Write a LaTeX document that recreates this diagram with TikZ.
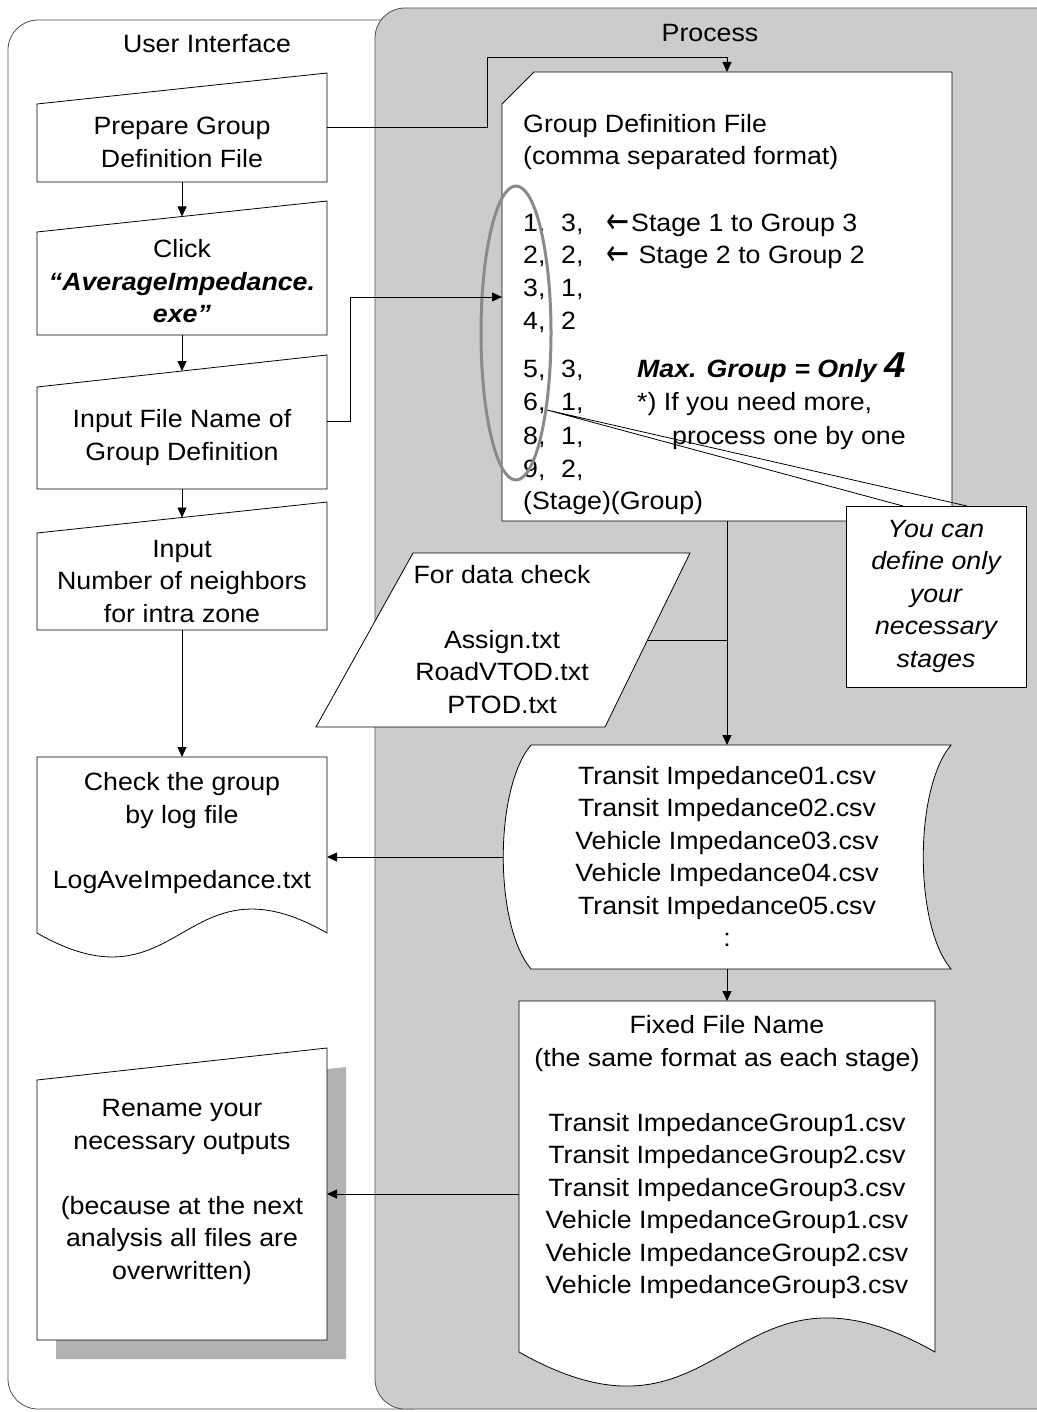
\documentclass[tikz,border=0pt]{standalone}
\usepackage{fontspec}
\usepackage{graphicx}
\setmainfont{Liberation Sans}[FakeStretch=1.07]
\newfontfamily\arrowfont{DejaVu Sans}
\usetikzlibrary{arrows.meta,calc}
\definecolor{lanegray}{HTML}{CCCCCC}
\definecolor{shadowgray}{HTML}{B2B2B2}
\definecolor{ringgray}{HTML}{8A8A8A}
\definecolor{edgegray}{HTML}{505050}
\newcommand{\bodyfont}{\fontsize{25}{32.5}\selectfont}
\newcommand{\bi}[1]{\textbf{\textit{#1}}}
\newcommand{\larr}{\makebox[25pt][l]{\raisebox{-2pt}{\scalebox{1.1}[1.45]{\arrowfont ←}}}}
\begin{document}
\begin{tikzpicture}[x=1pt,y=-1pt,
  outline/.style={draw=black, line width=0.8pt, fill=white},
  flow/.style={draw=black, line width=0.8pt, -{Triangle[length=10pt,width=9pt]}},
  link/.style={draw=black, line width=0.8pt},
  txt/.style={font=\bodyfont, align=center, inner sep=0pt},
  rowtext/.style={font=\bodyfont, anchor=base west, inner sep=0pt},
  lane/.style={rounded corners=30pt, line width=0.8pt, draw=edgegray}]
\useasboundingbox (0,0) rectangle (1036,1412);

% ---- swimlanes ----
\draw[lane, fill=white] (8,20) rectangle (440,1409);
\draw[lane, fill=lanegray] (375,8) rectangle (1080,1409);
\node[txt] (uititle) at (207,44) {User Interface};
\node[txt] (proctitle) at (710,33) {Process};

% ---- user interface column ----
\path[outline] (37,104) -- (327,73) -- (327,182) -- (37,182) -- cycle;
\node[txt] (prep) at (182,142.5) {Prepare Group\\Definition File};
\coordinate (prepS) at (182,182);
\coordinate (prepE) at (327,127);

\path[outline] (37,232) -- (327,201) -- (327,335) -- (37,335) -- cycle;
\node[txt] (click) at (182,281.5) {Click\\\bi{“AverageImpedance.}\\\bi{exe”}};
\coordinate (clickN) at (182,216.5);
\coordinate (clickS) at (182,335);

\path[outline] (37,387) -- (327,355) -- (327,489) -- (37,489) -- cycle;
\node[txt] (infile) at (182,437.5) {Input File Name of\\Group Definition};
\coordinate (infileN) at (182,371);
\coordinate (infileS) at (182,489);
\coordinate (infileE) at (327,421);

\path[outline] (37,533) -- (327,502) -- (327,630) -- (37,630) -- cycle;
\node[txt] (neigh) at (182,581.5) {Input\\Number of neighbors\\for intra zone};
\coordinate (neighN) at (182,517.5);
\coordinate (neighS) at (182,630);

\path[outline] (37,757) -- (327,757) -- (327,933)
  .. controls (182,850) and (182,1016) .. (37,933) -- cycle;
\node[txt] (check) at (182,833) {Check the group\\by log file\\[32.5pt]LogAveImpedance.txt};
\coordinate (checkN) at (182,757);
\coordinate (checkE) at (327,857);

\path[fill=shadowgray] (56,1099) -- (346,1067) -- (346,1359) -- (56,1359) -- cycle;
\path[outline] (37,1080) -- (327,1048) -- (327,1340) -- (37,1340) -- cycle;
\node[txt] (rename) at (182,1192) {Rename your\\necessary outputs\\[32.5pt](because at the next\\analysis all files are\\overwritten)};
\coordinate (renameE) at (327,1194);

% ---- process column ----
\path[outline] (502,104) -- (534,72) -- (952,72) -- (952,521) -- (502,521) -- cycle;
\coordinate (gdfN) at (727,72);
\coordinate (gdfW) at (502,297);
\coordinate (gdfS) at (727,521);
\node[rowtext] (gtitle) at (523,133) {Group Definition File};
\node[rowtext] (gformat) at (523,165) {(comma separated format)};
\node[rowtext] (ra1) at (523,232) {1,};
\node[rowtext] (rb1) at (561,232) {3,};
\node[rowtext] (rc1) at (606,232) {\larr Stage 1 to Group 3};
\node[rowtext] (ra2) at (523,264) {2,};
\node[rowtext] (rb2) at (561,264) {2,};
\node[rowtext] (rc2) at (606,264) {\larr{} Stage 2 to Group 2};
\node[rowtext] (ra3) at (523,297) {3,};
\node[rowtext] (rb3) at (561,297) {1,};
\node[rowtext] (ra4) at (523,329) {4,};
\node[rowtext] (rb4) at (561,329) {2};
\node[rowtext] (ra5) at (523,377) {5,};
\node[rowtext] (rb5) at (561,377) {3,};
\node[rowtext] (rc5) at (637,377) {\bi{Max. Group = Only {\fontsize{36}{36}\selectfont 4}}};
\node[rowtext] (ra6) at (523,410) {6,};
\node[rowtext] (rb6) at (561,410) {1,};
\node[rowtext] (rc6) at (637,410) {*) If you need more,};
\node[rowtext] (ra7) at (523,444) {8,};
\node[rowtext] (rb7) at (561,444) {1,};
\node[rowtext] (rc7) at (672,444) {process one by one};
\node[rowtext] (ra8) at (523,477) {9,};
\node[rowtext] (rb8) at (561,477) {2,};
\node[rowtext] (ra9) at (523,509) {(Stage)(Group)};
\draw[ringgray, line width=3pt] (516,333) ellipse [x radius=35pt, y radius=147pt];

% callout
\coordinate (tipref) at (547,410);
\draw[link] (903,506) -- (tipref) -- (967,506);
\draw[outline] (846,506) rectangle (1026,687);
\node[txt, font=\bodyfont\itshape] (note) at (936,596) {You can\\define only\\your\\necessary\\stages};

% data check input
\path[outline] (413,553) -- (690,553) -- (605,727) -- (316,727) -- cycle;
\node[txt] (datachk) at (502,639.5) {For data check\\[32.5pt]Assign.txt\\RoadVTOD.txt\\PTOD.txt};
\coordinate (datachkE) at (647.5,640);
\coordinate (joinpt) at (727,640);

% stage impedance files
\path[outline] (531,745) -- (951,745)
  .. controls (914,789) and (914,925) .. (951,969) -- (531,969)
  .. controls (494,925) and (494,789) .. (531,745) -- cycle;
\node[txt] (stagefiles) at (727,856.5) {Transit Impedance01.csv\\Transit Impedance02.csv\\Vehicle Impedance03.csv\\Vehicle Impedance04.csv\\Transit Impedance05.csv\\:};
\coordinate (stageN) at (727,745);
\coordinate (stageS) at (727,969);
\coordinate (stageW) at (503,857);

% fixed file names
\path[outline] (519,1001) -- (935,1001) -- (935,1352)
  .. controls (727,1234) and (727,1470) .. (519,1352) -- cycle;
\node[txt] (fixed) at (727,1157.5) {Fixed File Name\\(the same format as each stage)\\[32.5pt]Transit ImpedanceGroup1.csv\\Transit ImpedanceGroup2.csv\\Transit ImpedanceGroup3.csv\\Vehicle ImpedanceGroup1.csv\\Vehicle ImpedanceGroup2.csv\\Vehicle ImpedanceGroup3.csv};
\coordinate (fixedN) at (727,1001);
\coordinate (fixedW) at (519,1194);

% ---- connectors ----
\draw[flow] (prepE) -- (487,127) -- (487,57) -- (727,57) -- (gdfN);
\draw[flow] (prepS) -- (clickN);
\draw[flow] (clickS) -- (infileN);
\draw[flow] (infileS) -- (neighN);
\draw[flow] (neighS) -- (checkN);
\draw[flow] (infileE) -- (350,421) -- (350,297) -- (gdfW);
\draw[flow] (gdfS) -- (stageN);
\draw[link] (datachkE) -- (joinpt);
\draw[flow] (stageW) -- (checkE);
\draw[flow] (stageS) -- (fixedN);
\draw[flow] (fixedW) -- (renameE);
\end{tikzpicture}
\end{document}
